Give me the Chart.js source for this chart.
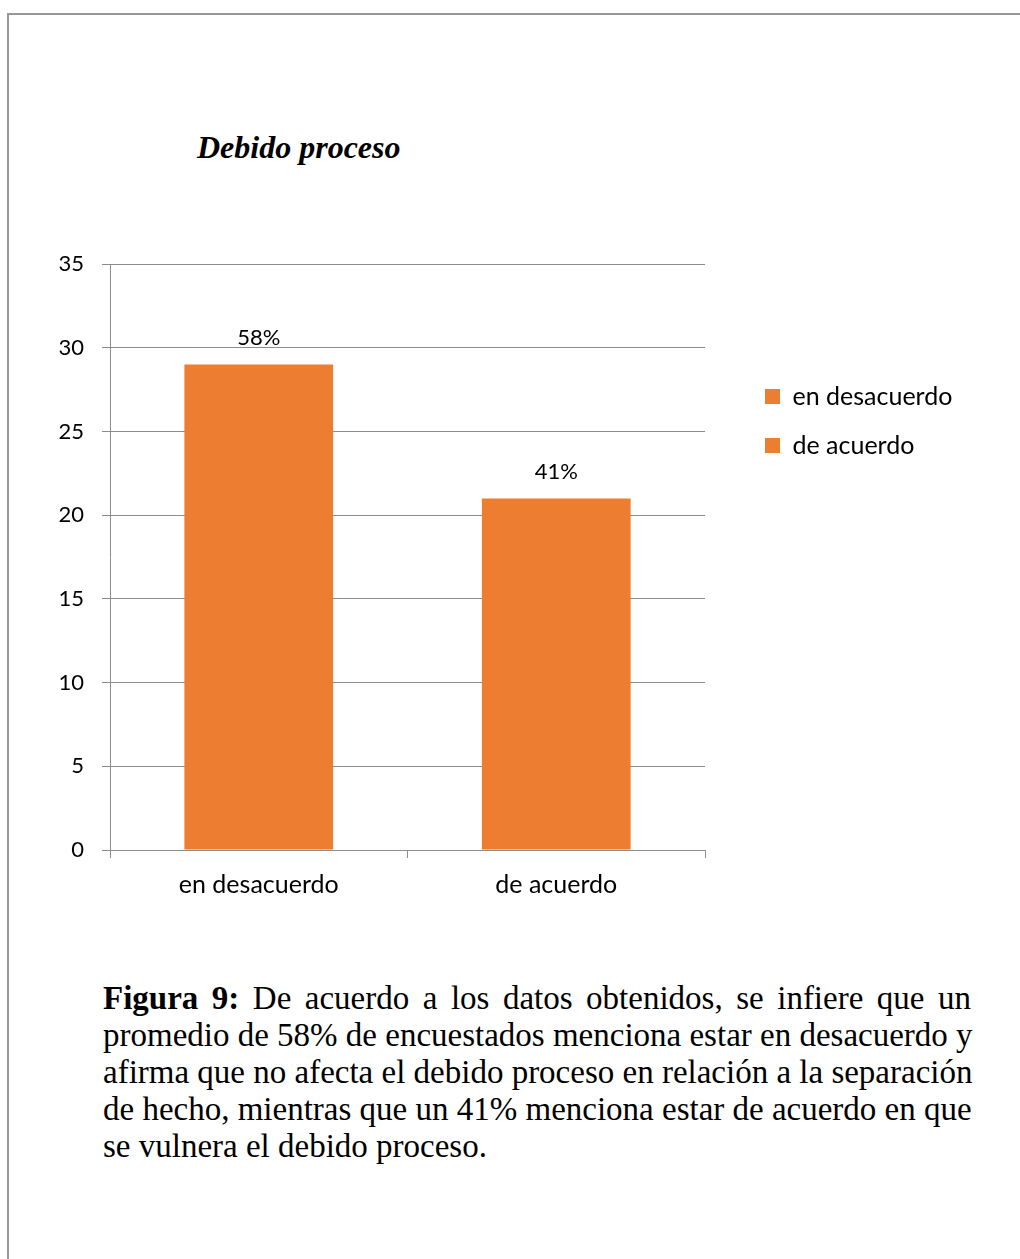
<!DOCTYPE html>
<html lang="es">
<head>
<meta charset="utf-8">
<title>Debido proceso</title>
<script src="https://cdn.jsdelivr.net/npm/chart.js@4.4.1/dist/chart.umd.min.js"></script>
<style>
  html, body { margin: 0; padding: 0; background: #fff; overflow: hidden; }
  body { width: 1020px; height: 1259px; position: relative; }
  .frame {
    position: absolute; left: 7px; top: 13px; width: 1100px; height: 1300px;
    border-left: 2px solid #979797; border-top: 2px solid #979797;
  }
  .chart-title {
    position: absolute; left: 197px; top: 131px;
    font: italic bold 32px/32px "Liberation Serif", "Times New Roman", serif;
    color: #000; white-space: nowrap;
  }
  #chart { position: absolute; left: 20px; top: 230px; }
  .caption {
    position: absolute; left: 103px; top: 980px; width: 868px;
    font: 33px/37px "Liberation Serif", "Times New Roman", serif; color: #000;
  }
  .caption div { text-align: justify; text-align-last: justify; white-space: nowrap; }
  .caption div.last { text-align-last: left; }
</style>
</head>
<body>
<div class="frame"></div>
<div class="chart-title">Debido proceso</div>
<canvas id="chart" width="980" height="690"></canvas>
<div class="caption">
  <div><b>Figura 9:</b> De acuerdo a los datos obtenidos, se infiere que un</div>
  <div>promedio de 58% de encuestados menciona estar en desacuerdo y</div>
  <div>afirma que no afecta el debido proceso en relación a la separación</div>
  <div>de hecho, mientras que un 41% menciona estar de acuerdo en que</div>
  <div class="last">se vulnera el debido proceso.</div>
</div>
<script>
// Survey answers: number of respondents per answer and the share printed above each bar
const categories = ['en desacuerdo', 'de acuerdo'];
const respondents = [29, 21];
const shareLabels = ['58%', '41%'];
const yTicks = { min: 0, max: 35, step: 5 };

const barColor = '#ED7D31';
const lineColor = '#8c8c8c';
const textColor = '#000000';
const fontFamily = 'Lato, "Open Sans", sans-serif';
const numberFont = 22;   // tick numbers and shares
const wordFont = 25;     // category names and legend

// Layout of the canvas (canvas is 980 x 690)
const canvasW = 980;
const plotTop = 34, plotLeft = 90, plotRight = 685, xAxisHeight = 70;
const legendGap = 36, legendPad = 24, legendBox = 15;

// Legend box is sized to its longest entry so the plot keeps its width
const measure = document.createElement('canvas').getContext('2d');
measure.font = wordFont + 'px ' + fontFamily;
const widestEntry = Math.max(...categories.map(c => measure.measureText(c).width));
const legendWidth = Math.ceil(legendPad + legendBox + wordFont / 2 + widestEntry + 2);
const rightPad = canvasW - plotRight - legendGap - legendWidth;

Chart.defaults.font.family = fontFamily;
Chart.defaults.font.size = numberFont;
Chart.defaults.color = textColor;

// Prints the share text above every bar
const barShareLabels = {
  id: 'barShareLabels',
  afterDatasetsDraw(chart) {
    const { ctx } = chart;
    const meta = chart.getDatasetMeta(0);
    ctx.save();
    ctx.font = numberFont + 'px ' + fontFamily;
    ctx.fillStyle = textColor;
    ctx.textAlign = 'center';
    ctx.textBaseline = 'alphabetic';
    meta.data.forEach((bar, i) => {
      ctx.fillText(shareLabels[i], bar.x, bar.y - 19);
    });
    ctx.restore();
  }
};

new Chart(document.getElementById('chart'), {
  type: 'bar',
  data: {
    labels: categories,
    datasets: [{
      data: respondents,
      backgroundColor: barColor,
      borderWidth: 0,
      categoryPercentage: 1.0,
      barPercentage: 0.5
    }]
  },
  options: {
    responsive: false,
    animation: false,
    layout: { padding: { left: 0, top: plotTop, right: rightPad, bottom: 0 } },
    scales: {
      x: {
        grid: {
          display: true, offset: true, drawOnChartArea: false,
          drawTicks: true, tickLength: 8, color: lineColor
        },
        border: { display: true, color: lineColor },
        ticks: { padding: 12, color: textColor, font: { size: wordFont } },
        afterFit(scale) { scale.height = xAxisHeight; }
      },
      y: {
        min: yTicks.min, max: yTicks.max,
        grid: { color: lineColor, drawTicks: true, tickLength: 8 },
        border: { display: true, color: lineColor },
        ticks: { stepSize: yTicks.step, padding: 18, color: textColor, font: { size: numberFont } },
        afterFit(scale) { scale.width = plotLeft; }
      },
      gap: {
        type: 'linear', position: 'right', display: true,
        grid: { display: false }, border: { display: false },
        ticks: { display: false },
        afterFit(scale) { scale.width = legendGap; }
      }
    },
    plugins: {
      tooltip: { enabled: false },
      legend: {
        position: 'right',
        align: 'start',
        maxWidth: legendWidth,
        onClick: null,
        title: { display: true, text: '', font: { size: 10 }, padding: { top: 84, bottom: 0 } },
        labels: {
          boxWidth: legendBox, boxHeight: legendBox, padding: legendPad,
          color: textColor, font: { size: wordFont },
          generateLabels: () => categories.map((c, i) => ({
            text: c, fillStyle: barColor, strokeStyle: barColor,
            lineWidth: 0, hidden: false, index: i, datasetIndex: 0
          }))
        }
      }
    }
  },
  plugins: [barShareLabels]
});
</script>
</body>
</html>
